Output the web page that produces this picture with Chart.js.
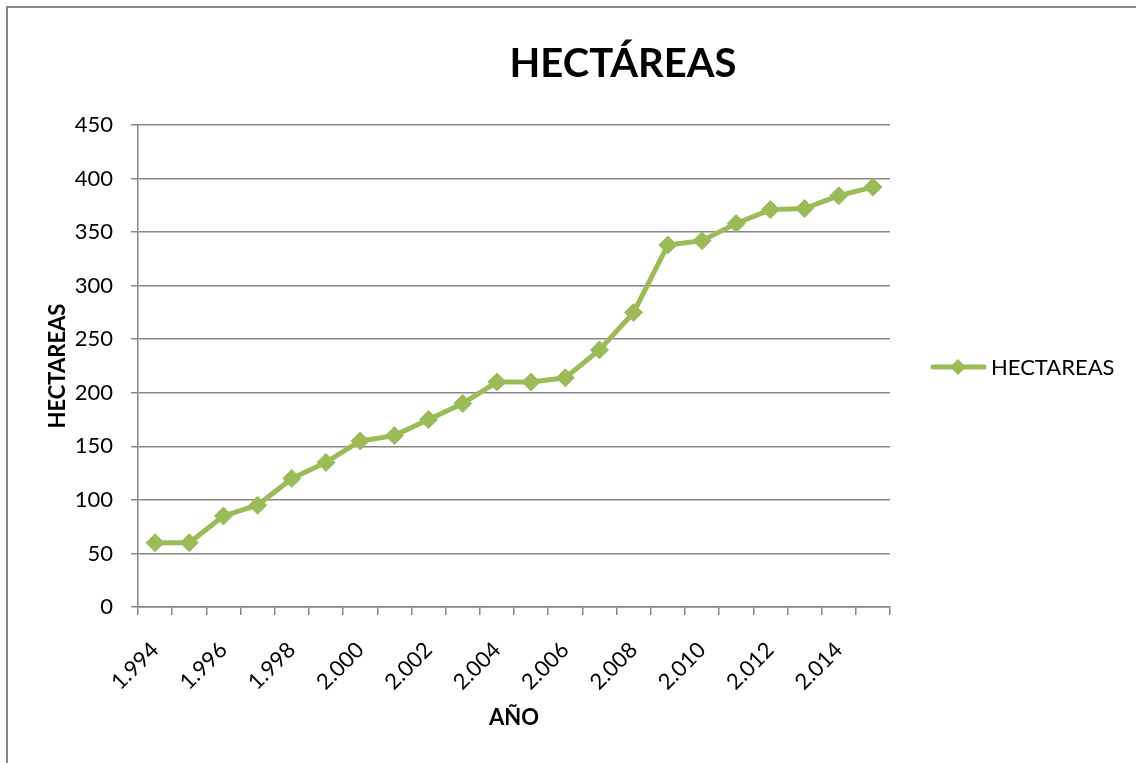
<!DOCTYPE html>
<html>
<head>
<meta charset="utf-8">
<script src="https://cdn.jsdelivr.net/npm/chart.js@4/dist/chart.umd.min.js"></script>
<style>
  html, body { margin: 0; padding: 0; background: #ffffff; }
  #wrap { position: relative; width: 1136px; height: 763px; }
</style>
</head>
<body>
<div id="wrap"><canvas id="c" width="1136" height="763"></canvas></div>
<script>
// ---- data ----
const years = [1994,1995,1996,1997,1998,1999,2000,2001,2002,2003,2004,2005,2006,2007,2008,2009,2010,2011,2012,2013,2014,2015];
const yearLabels = ["1.994","1.995","1.996","1.997","1.998","1.999","2.000","2.001","2.002","2.003","2.004","2.005","2.006","2.007","2.008","2.009","2.010","2.011","2.012","2.013","2.014","2.015"];
const hectareas = [60,60,85,95,120,135,155,160,175,190,210,210,214,240,275,338,342,358,371,372,384,392];
const seriesName = "HECTAREAS";
const chartTitle = "HECTÁREAS";
const xTitle = "AÑO";
const yTitle = "HECTAREAS";
const yMin = 0, yMax = 450, yStep = 50;

const GREEN = '#9BBB59';
const GRID = '#878787';
const FONT = 'Lato, "Open Sans", sans-serif';

const framePlugin = {
  id: 'frame',
  beforeDraw(chart) {
    const ctx = chart.ctx;
    ctx.save();
    ctx.fillStyle = '#ffffff';
    ctx.fillRect(0, 0, chart.width, chart.height);
    ctx.strokeStyle = GRID;
    ctx.lineWidth = 2;
    ctx.beginPath();
    ctx.moveTo(7, chart.height + 2);
    ctx.lineTo(7, 7);
    ctx.lineTo(chart.width + 2, 7);
    ctx.stroke();
    ctx.restore();
  }
};

const titlePlugin = {
  id: 'customTitle',
  afterDraw(chart) {
    const ctx = chart.ctx;
    ctx.save();
    ctx.fillStyle = '#000000';
    ctx.font = 'bold 40px ' + FONT;
    ctx.textAlign = 'center';
    ctx.textBaseline = 'middle';
    ctx.fillText(chartTitle, 623, 64);
    ctx.restore();
  }
};

const legendPlugin = {
  id: 'customLegend',
  afterDraw(chart) {
    const ctx = chart.ctx;
    const ds = chart.data.datasets[0];
    const y = 367;
    ctx.save();
    ctx.strokeStyle = ds.borderColor;
    ctx.lineWidth = 5;
    ctx.lineCap = 'round';
    ctx.beginPath();
    ctx.moveTo(933, y);
    ctx.lineTo(984, y);
    ctx.stroke();
    ctx.fillStyle = ds.pointBackgroundColor;
    ctx.beginPath();
    ctx.moveTo(958 - 8, y); ctx.lineTo(958, y - 8); ctx.lineTo(958 + 8, y); ctx.lineTo(958, y + 8); ctx.closePath();
    ctx.fill();
    ctx.fillStyle = '#000000';
    ctx.font = '22px ' + FONT;
    ctx.textAlign = 'left';
    ctx.textBaseline = 'middle';
    ctx.fillText(ds.label, 991, y + 1);
    ctx.restore();
  }
};

new Chart(document.getElementById('c'), {
  type: 'line',
  data: {
    labels: yearLabels,
    datasets: [{
      label: seriesName,
      data: hectareas,
      borderColor: GREEN,
      backgroundColor: GREEN,
      pointBackgroundColor: GREEN,
      pointBorderColor: GREEN,
      borderWidth: 5,
      pointStyle: 'rectRot',
      pointRadius: 9,
      pointBorderWidth: 1,
      tension: 0,
      fill: false
    }]
  },
  options: {
    responsive: false,
    animation: false,
    devicePixelRatio: 1,
    layout: { padding: { left: 0, right: 246, top: 125, bottom: 0 } },
    plugins: {
      legend: { display: false },
      title: { display: false },
      tooltip: { enabled: false }
    },
    scales: {
      x: {
        type: 'category',
        offset: true,
        grid: { display: true, drawOnChartArea: false, drawTicks: true, tickLength: 8, color: GRID, lineWidth: 1.5, offset: true },
        border: { display: true, color: GRID, width: 1.5 },
        ticks: {
          autoSkip: false,
          maxRotation: 45,
          minRotation: 45,
          padding: 22,
          color: '#000000',
          font: { family: FONT, size: 22 },
          callback: function (value, index) { return index % 2 === 0 ? this.getLabelForValue(value) : ''; }
        },
        title: { display: true, text: xTitle, color: '#000000', font: { family: FONT, size: 22, weight: 'bold' }, padding: { top: 0, bottom: 32 } },
        afterFit(scale) { scale.height = 156; }
      },
      y: {
        min: yMin,
        max: yMax,
        grid: { color: GRID, lineWidth: 1.5, tickLength: 7, drawTicks: true },
        border: { display: true, color: GRID, width: 1.5 },
        ticks: {
          stepSize: yStep,
          padding: 18,
          color: '#000000',
          font: { family: FONT, size: 22 }
        },
        title: { display: true, text: yTitle, color: '#000000', font: { family: FONT, size: 22, weight: 'bold' }, padding: { top: 45, bottom: 0 } },
        afterFit(scale) { scale.width = 138; }
      }
    }
  },
  plugins: [framePlugin, titlePlugin, legendPlugin]
});
</script>
</body>
</html>
